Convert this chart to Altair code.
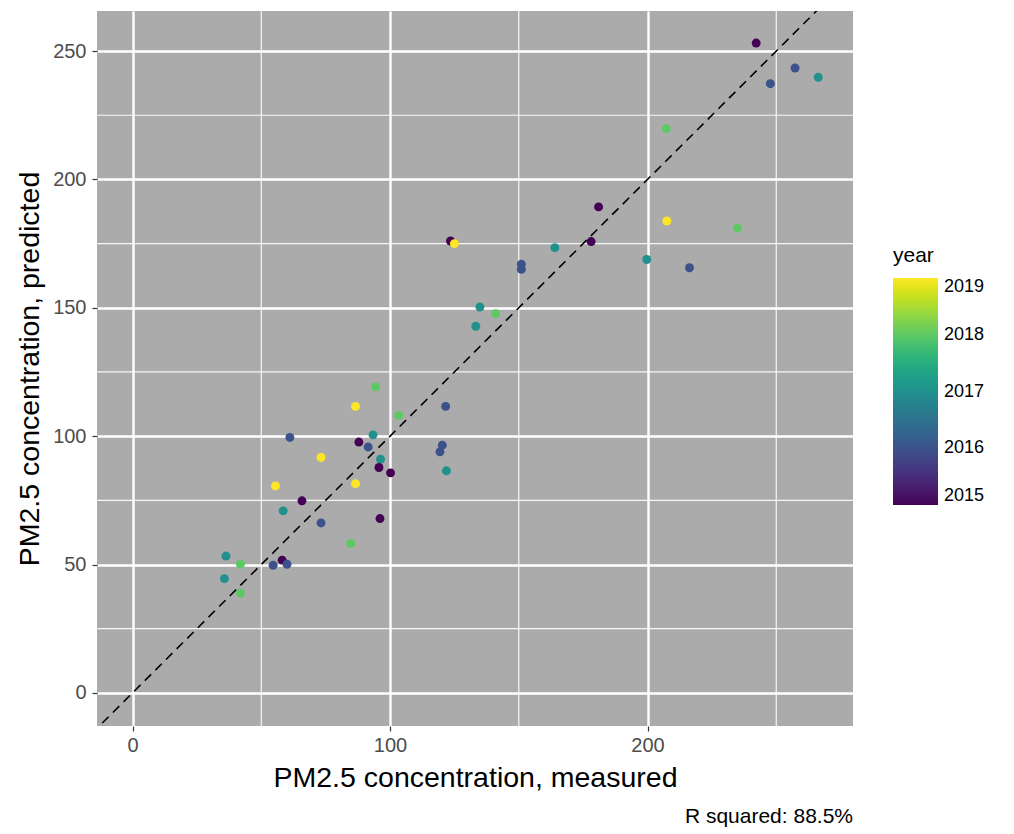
import altair as alt
import pandas as pd

# measured / predicted PM2.5 and year
measured = [242.2, 257.3, 247.7, 266.3, 207.3, 181.0, 207.5, 235.0, 123.5, 125.0,
            164.0, 178.1, 151.0, 151.0, 199.7, 216.3, 134.9, 133.3, 141.0, 121.6,
            94.4, 103.4, 86.6, 61.1, 93.4, 87.9, 91.5, 96.3, 95.7, 100.2,
            73.2, 120.3, 119.4, 121.9, 55.5, 86.6, 65.8, 58.5, 73.2, 96.1,
            84.7, 36.3, 41.9, 54.6, 58.1, 60.0, 35.7, 41.9]
predicted = [253.1, 243.4, 237.3, 239.8, 219.8, 189.3, 183.8, 181.0, 176.0, 175.0,
             173.4, 175.8, 167.0, 165.0, 168.8, 165.6, 150.3, 142.8, 147.7, 111.6,
             119.2, 108.1, 111.6, 99.5, 100.5, 97.7, 95.8, 91.0, 87.8, 85.7,
             91.7, 96.5, 93.9, 86.5, 80.6, 81.5, 74.8, 70.9, 66.2, 67.9,
             58.2, 53.3, 50.1, 49.7, 51.7, 50.1, 44.5, 38.9]
year = [2015, 2016, 2016, 2017, 2018, 2015, 2019, 2018, 2015, 2019,
        2017, 2015, 2016, 2016, 2017, 2016, 2017, 2017, 2018, 2016,
        2018, 2018, 2019, 2016, 2017, 2015, 2016, 2017, 2015, 2015,
        2019, 2016, 2016, 2017, 2019, 2019, 2015, 2017, 2016, 2015,
        2018, 2017, 2018, 2016, 2015, 2016, 2017, 2018]

x_major = [0, 100, 200]
x_minor = [50, 150, 250]
y_major = [0, 50, 100, 150, 200, 250]
y_minor = [25, 75, 125, 175, 225]
identity_ends = [-20, 300]
legend_years = [2015, 2016, 2017, 2018, 2019]

x_dom = [-13.8, 279.8]
y_dom = [-12.9, 265.6]

pts = pd.DataFrame({"measured": measured, "predicted": predicted, "year": year})
ident = pd.DataFrame({"measured": identity_ends, "predicted": identity_ends})
xmin_df = pd.DataFrame({"v": x_minor})
ymin_df = pd.DataFrame({"v": y_minor})

FONT = "Liberation Sans"

xscale = alt.Scale(domain=x_dom, nice=False, zero=False)
yscale = alt.Scale(domain=y_dom, nice=False, zero=False)

xaxis = alt.Axis(title="PM2.5 concentration, measured", values=x_major, grid=True,
                 gridColor="white", gridWidth=2.4, domain=False, tickColor="#333333",
                 tickSize=5, tickWidth=1.2, labelFontSize=20, labelColor="#4D4D4D",
                 labelPadding=4, titleFontSize=28.5, titleFontWeight="normal",
                 titleColor="black", titlePadding=8, labelFont=FONT, titleFont=FONT)
yaxis = alt.Axis(title="PM2.5 concentration, predicted", values=y_major, grid=True,
                 gridColor="white", gridWidth=2.4, domain=False, tickColor="#333333",
                 tickSize=5, tickWidth=1.2, labelFontSize=20, labelColor="#4D4D4D",
                 labelPadding=6, titleFontSize=28.5, titleFontWeight="normal",
                 titleColor="black", titlePadding=8, labelFont=FONT, titleFont=FONT)

minor_x = alt.Chart(xmin_df).mark_rule(color="white", strokeWidth=1.2, opacity=0.9).encode(
    x=alt.X("v:Q", scale=xscale, axis=xaxis))
minor_y = alt.Chart(ymin_df).mark_rule(color="white", strokeWidth=1.2, opacity=0.9).encode(
    y=alt.Y("v:Q", scale=yscale, axis=yaxis))

points = alt.Chart(pts).mark_circle(size=80, opacity=1).encode(
    x=alt.X("measured:Q", scale=xscale, axis=xaxis),
    y=alt.Y("predicted:Q", scale=yscale, axis=yaxis),
    color=alt.Color("year:Q",
                    scale=alt.Scale(scheme="viridis", domain=[2015, 2019]),
                    legend=alt.Legend(title="year", orient="none", legendX=796, legendY=234,
                                      direction="vertical", values=legend_years, format="d",
                                      gradientLength=227, gradientThickness=45,
                                      gradientStrokeWidth=0, titleFontSize=21,
                                      titleFontWeight="normal", titleColor="black",
                                      titlePadding=12,
                                      labelFontSize=18, labelColor="black",
                                      labelFont=FONT, titleFont=FONT, labelOffset=6)),
)

line = alt.Chart(ident).mark_line(color="black", strokeDash=[9, 6], strokeWidth=1.6,
                                  clip=True).encode(
    x=alt.X("measured:Q", scale=xscale, axis=xaxis),
    y=alt.Y("predicted:Q", scale=yscale, axis=yaxis))

chart = alt.layer(minor_x, minor_y, points, line).properties(
    width=756, height=715,
    background="white",
    autosize=alt.AutoSizeParams(type="none"),
    padding={"left": 89, "top": 3, "right": 150, "bottom": 106},
    title=alt.TitleParams(text="R squared: 88.5%", orient="bottom", anchor="end",
                          frame="group",
                          fontSize=21, fontWeight="normal", color="black", font=FONT,
                          offset=14),
).configure_view(fill="#ABABAB", strokeWidth=0)

chart.save("out.html", embed_options={"renderer": "svg", "actions": False})
